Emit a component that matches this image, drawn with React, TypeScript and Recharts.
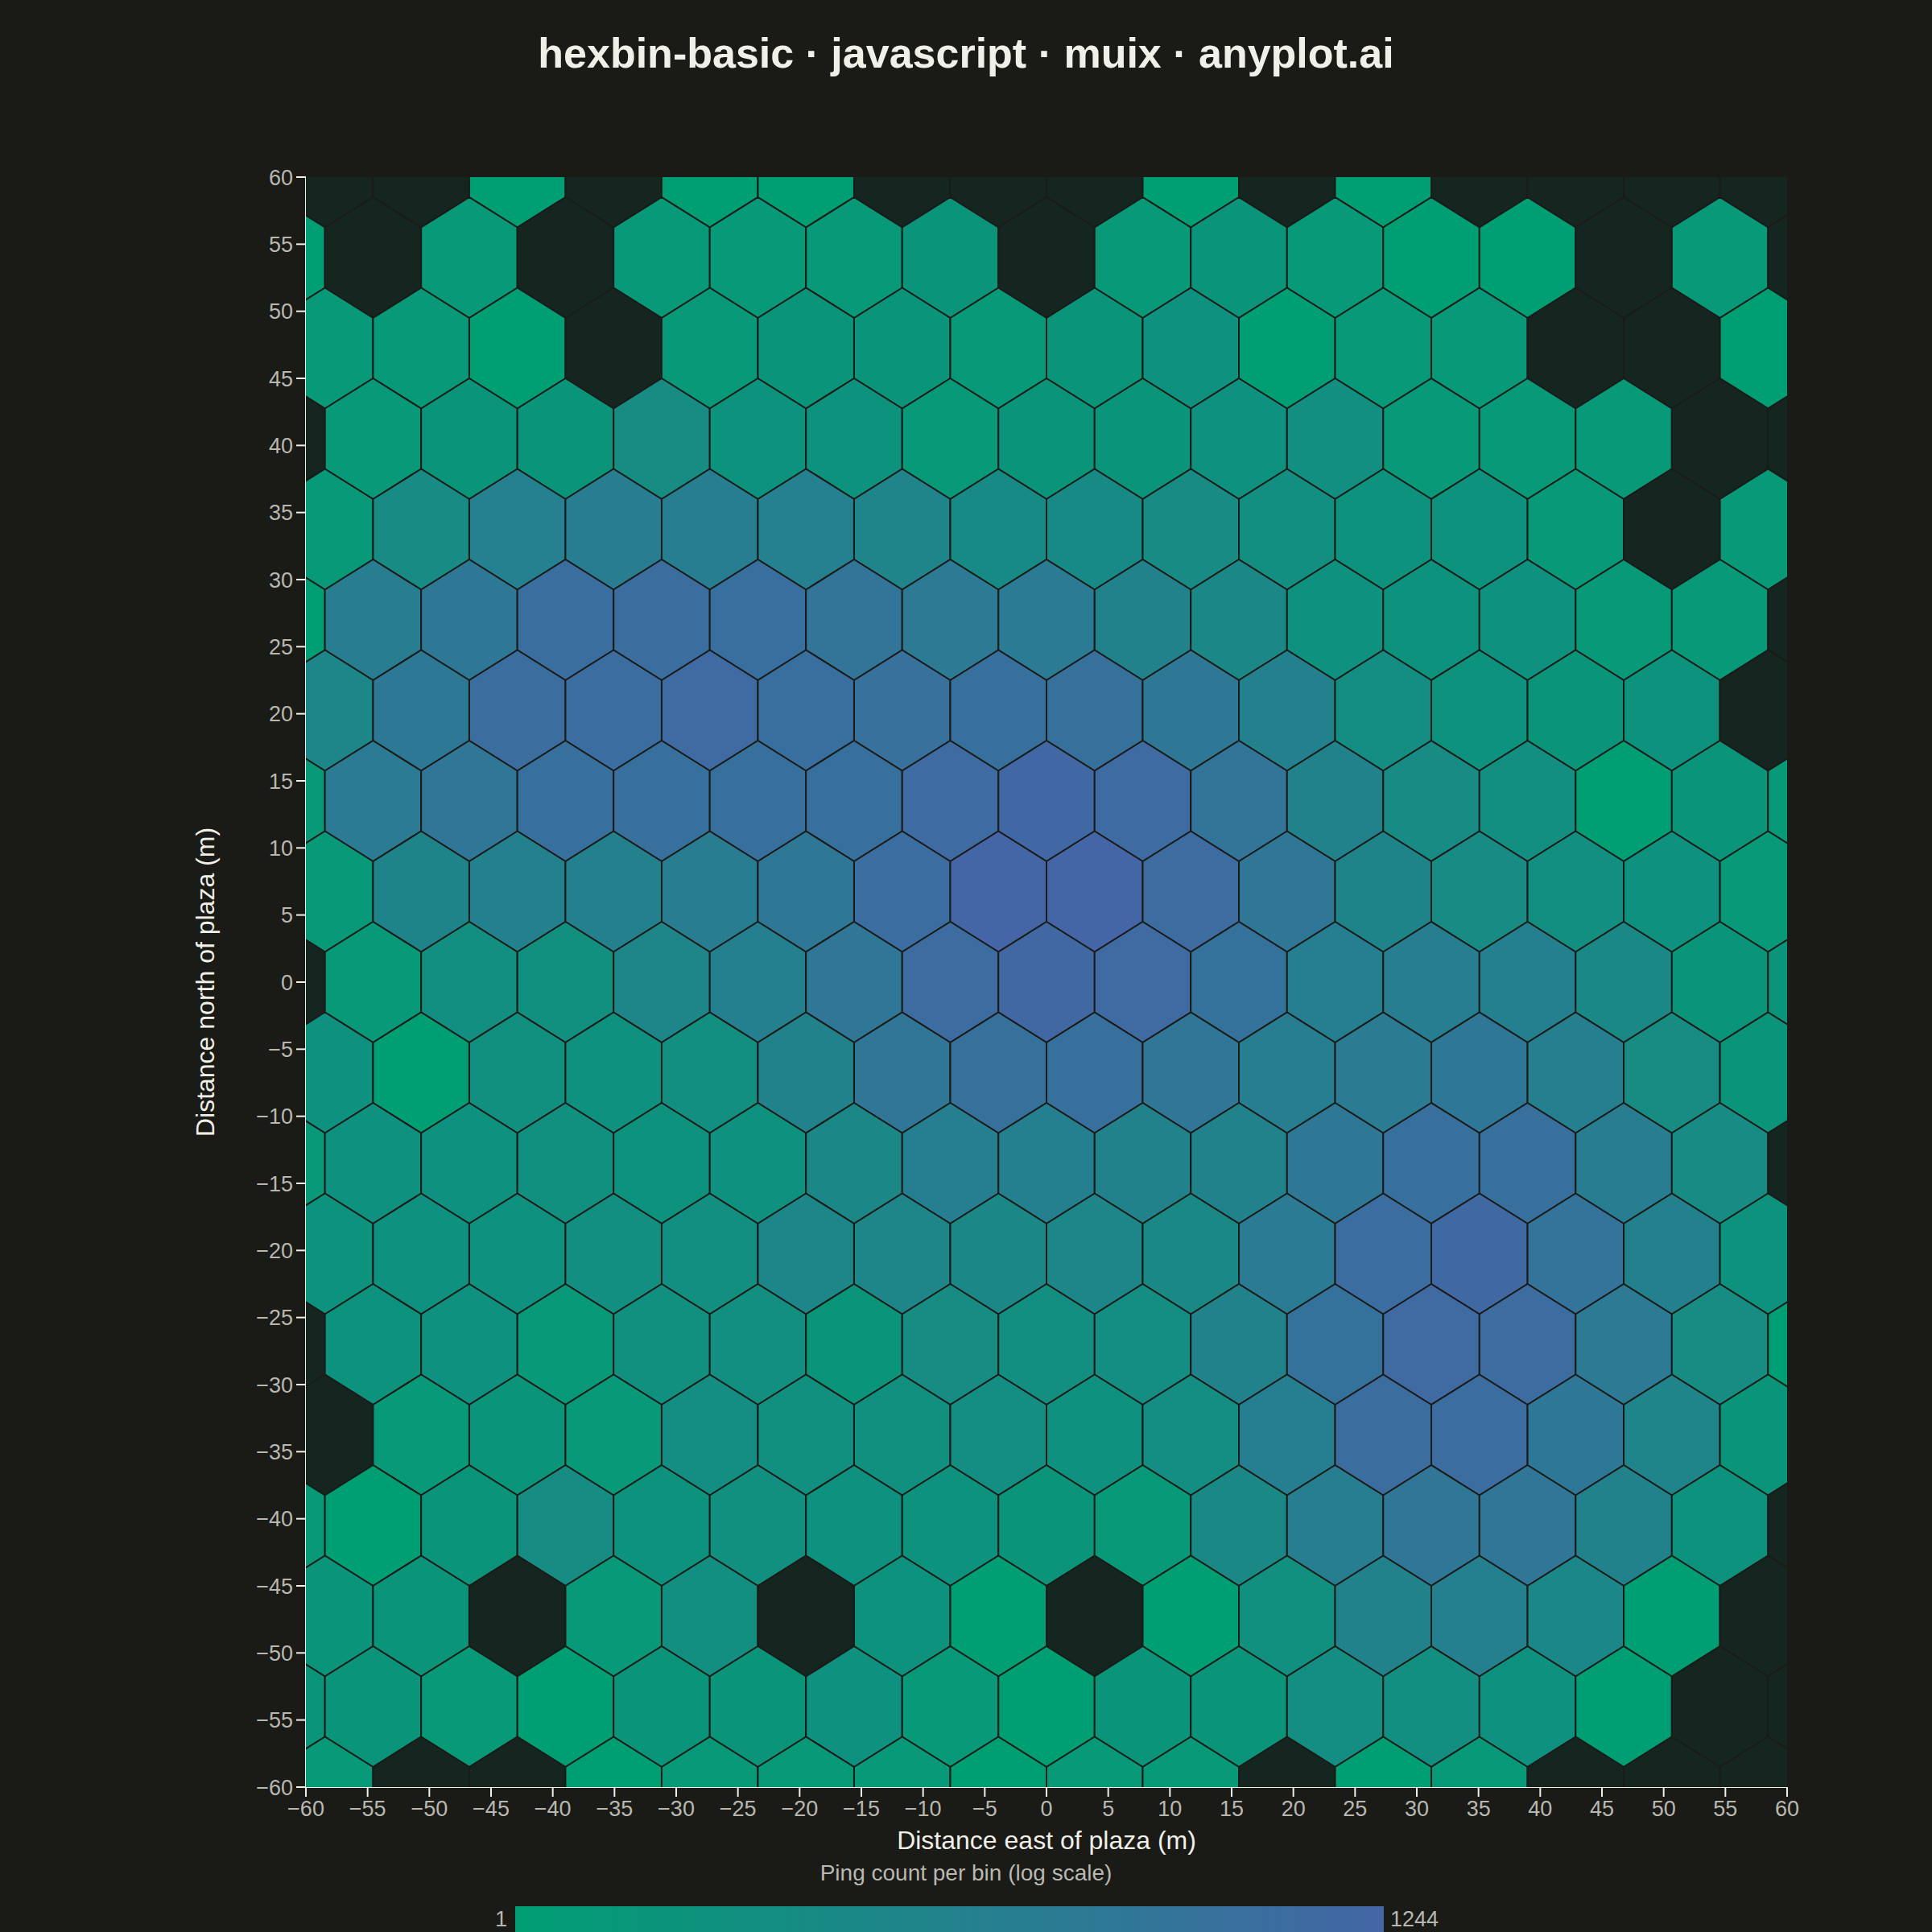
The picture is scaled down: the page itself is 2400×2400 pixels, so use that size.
import React from "react";
import { ScatterChart, Scatter, XAxis, YAxis } from "recharts";

// hex grid: pointy-top hexagons, radius in data units (d3-hexbin style)
const HEX_RADIUS = 4.5;
const HEX_DX = HEX_RADIUS * Math.sqrt(3);
const HEX_DY = HEX_RADIUS * 1.5;

// ping counts per bin, top row (j = 9) to bottom row (j = -9), left to right
// odd rows hold 16 bins (offset by half a column), even rows hold 17
const binRows: number[][] = [
  [0, 0, 1, 0, 1, 1, 0, 0, 0, 1, 0, 1, 0, 0, 0, 0],
  [1, 0, 2, 0, 2, 2, 2, 3, 0, 2, 3, 2, 1, 1, 0, 2, 0],
  [2, 2, 1, 0, 2, 3, 3, 2, 3, 5, 1, 2, 2, 0, 0, 1],
  [0, 2, 3, 3, 10, 4, 4, 2, 3, 3, 5, 7, 2, 2, 2, 0, 0],
  [2, 11, 47, 67, 58, 47, 28, 12, 12, 11, 7, 4, 4, 2, 0, 2],
  [1, 67, 127, 426, 490, 400, 210, 102, 83, 35, 17, 5, 4, 5, 2, 2, 0],
  [21, 110, 460, 526, 720, 400, 320, 345, 300, 127, 41, 8, 4, 3, 4, 0],
  [2, 83, 146, 340, 370, 340, 345, 650, 950, 650, 195, 35, 11, 7, 1, 3, 2],
  [2, 26, 41, 41, 67, 127, 526, 1244, 1200, 605, 146, 26, 11, 7, 5, 2],
  [0, 2, 7, 6, 23, 43, 146, 605, 1000, 700, 260, 54, 58, 43, 15, 3, 3],
  [5, 1, 6, 5, 7, 35, 146, 300, 345, 146, 58, 89, 137, 50, 10, 3],
  [2, 5, 5, 6, 4, 5, 17, 54, 43, 35, 35, 127, 345, 345, 67, 11, 0],
  [4, 5, 5, 7, 7, 21, 23, 17, 21, 15, 83, 526, 805, 225, 41, 4],
  [0, 4, 5, 2, 6, 7, 3, 10, 7, 8, 35, 260, 750, 605, 102, 10, 1],
  [0, 2, 3, 2, 8, 6, 6, 8, 5, 8, 54, 490, 526, 137, 28, 3],
  [2, 1, 3, 10, 4, 6, 5, 4, 3, 2, 15, 58, 146, 146, 35, 4, 0],
  [3, 3, 0, 2, 7, 0, 4, 1, 0, 1, 6, 35, 43, 19, 1, 0],
  [3, 3, 2, 1, 3, 3, 5, 2, 1, 3, 3, 8, 7, 5, 1, 0, 0],
  [2, 0, 0, 1, 2, 2, 2, 1, 2, 2, 0, 1, 2, 0, 0, 0],
];

const axisTicks = [
  -60, -55, -50, -45, -40, -35, -30, -25, -20, -15, -10, -5, 0, 5, 10, 15, 20, 25, 30, 35, 40, 45, 50, 55, 60,
];

const countRange = [1, 1244];
const lowColor = [0, 158, 115];
const highColor = [68, 102, 166];
const EMPTY_FILL = "#152520";

// layout (page pixels)
const W = 2400;
const H = 2400;
const PLOT_LEFT = 380;
const PLOT_TOP = 220;
const PLOT_W = 1840;
const PLOT_H = 2000;
const KX = PLOT_W / 120;
const KY = PLOT_H / 120;

const FONT = "'Liberation Sans', Arial, sans-serif";
const BG = "#1a1a17";
const INK = "#f0efe8";
const MUTED = "#b8b8b0";

type Bin = { x: number; y: number; count: number };

const bins: Bin[] = [];
binRows.forEach((row, i) => {
  const j = 9 - i;
  const odd = Math.abs(j) % 2 === 1;
  row.forEach((count, k) => {
    bins.push({
      x: (odd ? k - 7.5 : k - 8) * HEX_DX,
      y: j * HEX_DY,
      count,
    });
  });
});

function colorFor(count: number) {
  if (count <= 0) return EMPTY_FILL;
  const t = Math.log(count / countRange[0]) / Math.log(countRange[1] / countRange[0]);
  const c = lowColor.map((v, i) => Math.round(v + (highColor[i] - v) * t));
  return `rgb(${c[0]},${c[1]},${c[2]})`;
}

function formatTick(v: number) {
  return v < 0 ? `\u2212${Math.abs(v)}` : String(v);
}

function HexShape(props: any) {
  const { cx, cy, payload } = props;
  if (cx == null || cy == null) return null;
  const rx = HEX_RADIUS * KX;
  const ry = HEX_RADIUS * KY;
  const pts: string[] = [];
  for (let a = 0; a < 6; a++) {
    const ang = (Math.PI / 3) * a;
    pts.push(`${cx + Math.sin(ang) * rx},${cy - Math.cos(ang) * ry}`);
  }
  return (
    <polygon
      points={pts.join(" ")}
      fill={colorFor(payload.count)}
      stroke="#1b1b18"
      strokeWidth={2}
      strokeLinejoin="round"
    />
  );
}

export default function App() {
  return (
    <div
      style={{
        position: "absolute",
        left: 0,
        top: 0,
        width: W,
        height: H,
        background: BG,
        fontFamily: FONT,
        overflow: "hidden",
      }}
    >
      <ScatterChart
        width={W}
        height={H}
        margin={{ top: PLOT_TOP, right: W - PLOT_LEFT - PLOT_W, left: 0, bottom: 80 }}
      >
        <XAxis
          type="number"
          dataKey="x"
          domain={[-60, 60]}
          ticks={axisTicks}
          interval={0}
          allowDataOverflow
          height={100}
          tickSize={12}
          tickMargin={5}
          tickFormatter={formatTick}
          axisLine={{ stroke: INK, strokeWidth: 2 }}
          tickLine={{ stroke: INK, strokeWidth: 2 }}
          tick={{ fill: MUTED, fontSize: 27, fontFamily: FONT }}
        />
        <YAxis
          type="number"
          dataKey="y"
          domain={[-60, 60]}
          ticks={axisTicks}
          interval={0}
          allowDataOverflow
          width={PLOT_LEFT}
          tickSize={12}
          tickMargin={4}
          tickFormatter={formatTick}
          axisLine={{ stroke: INK, strokeWidth: 2 }}
          tickLine={{ stroke: INK, strokeWidth: 2 }}
          tick={{ fill: MUTED, fontSize: 27, fontFamily: FONT }}
        />
        <Scatter data={bins} shape={(p: any) => <HexShape {...p} />} isAnimationActive={false} />
      </ScatterChart>

      <svg
        width={W}
        height={H}
        style={{ position: "absolute", left: 0, top: 0, pointerEvents: "none" }}
      >
        <defs>
          <linearGradient id="pingScale" x1="0" x2="1" y1="0" y2="0">
            <stop offset="0%" stopColor={`rgb(${lowColor.join(",")})`} />
            <stop offset="100%" stopColor={`rgb(${highColor.join(",")})`} />
          </linearGradient>
        </defs>
        <text x={1200} y={84} textAnchor="middle" fill={INK} fontSize={52} fontWeight="bold" fontFamily={FONT}>
          hexbin-basic · javascript · muix · anyplot.ai
        </text>
        <text x={1300} y={2297} textAnchor="middle" fill={INK} fontSize={32} fontFamily={FONT}>
          Distance east of plaza (m)
        </text>
        <text
          x={266}
          y={1220}
          transform="rotate(-90 266 1220)"
          textAnchor="middle"
          fill={INK}
          fontSize={32}
          fontFamily={FONT}
        >
          Distance north of plaza (m)
        </text>
        <text x={1200} y={2336} textAnchor="middle" fill={MUTED} fontSize={28} fontFamily={FONT}>
          Ping count per bin (log scale)
        </text>
        <rect x={640} y={2368} width={1079} height={40} fill="url(#pingScale)" />
        <text x={630} y={2393} textAnchor="end" fill={MUTED} fontSize={27} fontFamily={FONT}>
          {countRange[0]}
        </text>
        <text x={1727} y={2393} textAnchor="start" fill={MUTED} fontSize={27} fontFamily={FONT}>
          {countRange[1]}
        </text>
      </svg>
    </div>
  );
}
